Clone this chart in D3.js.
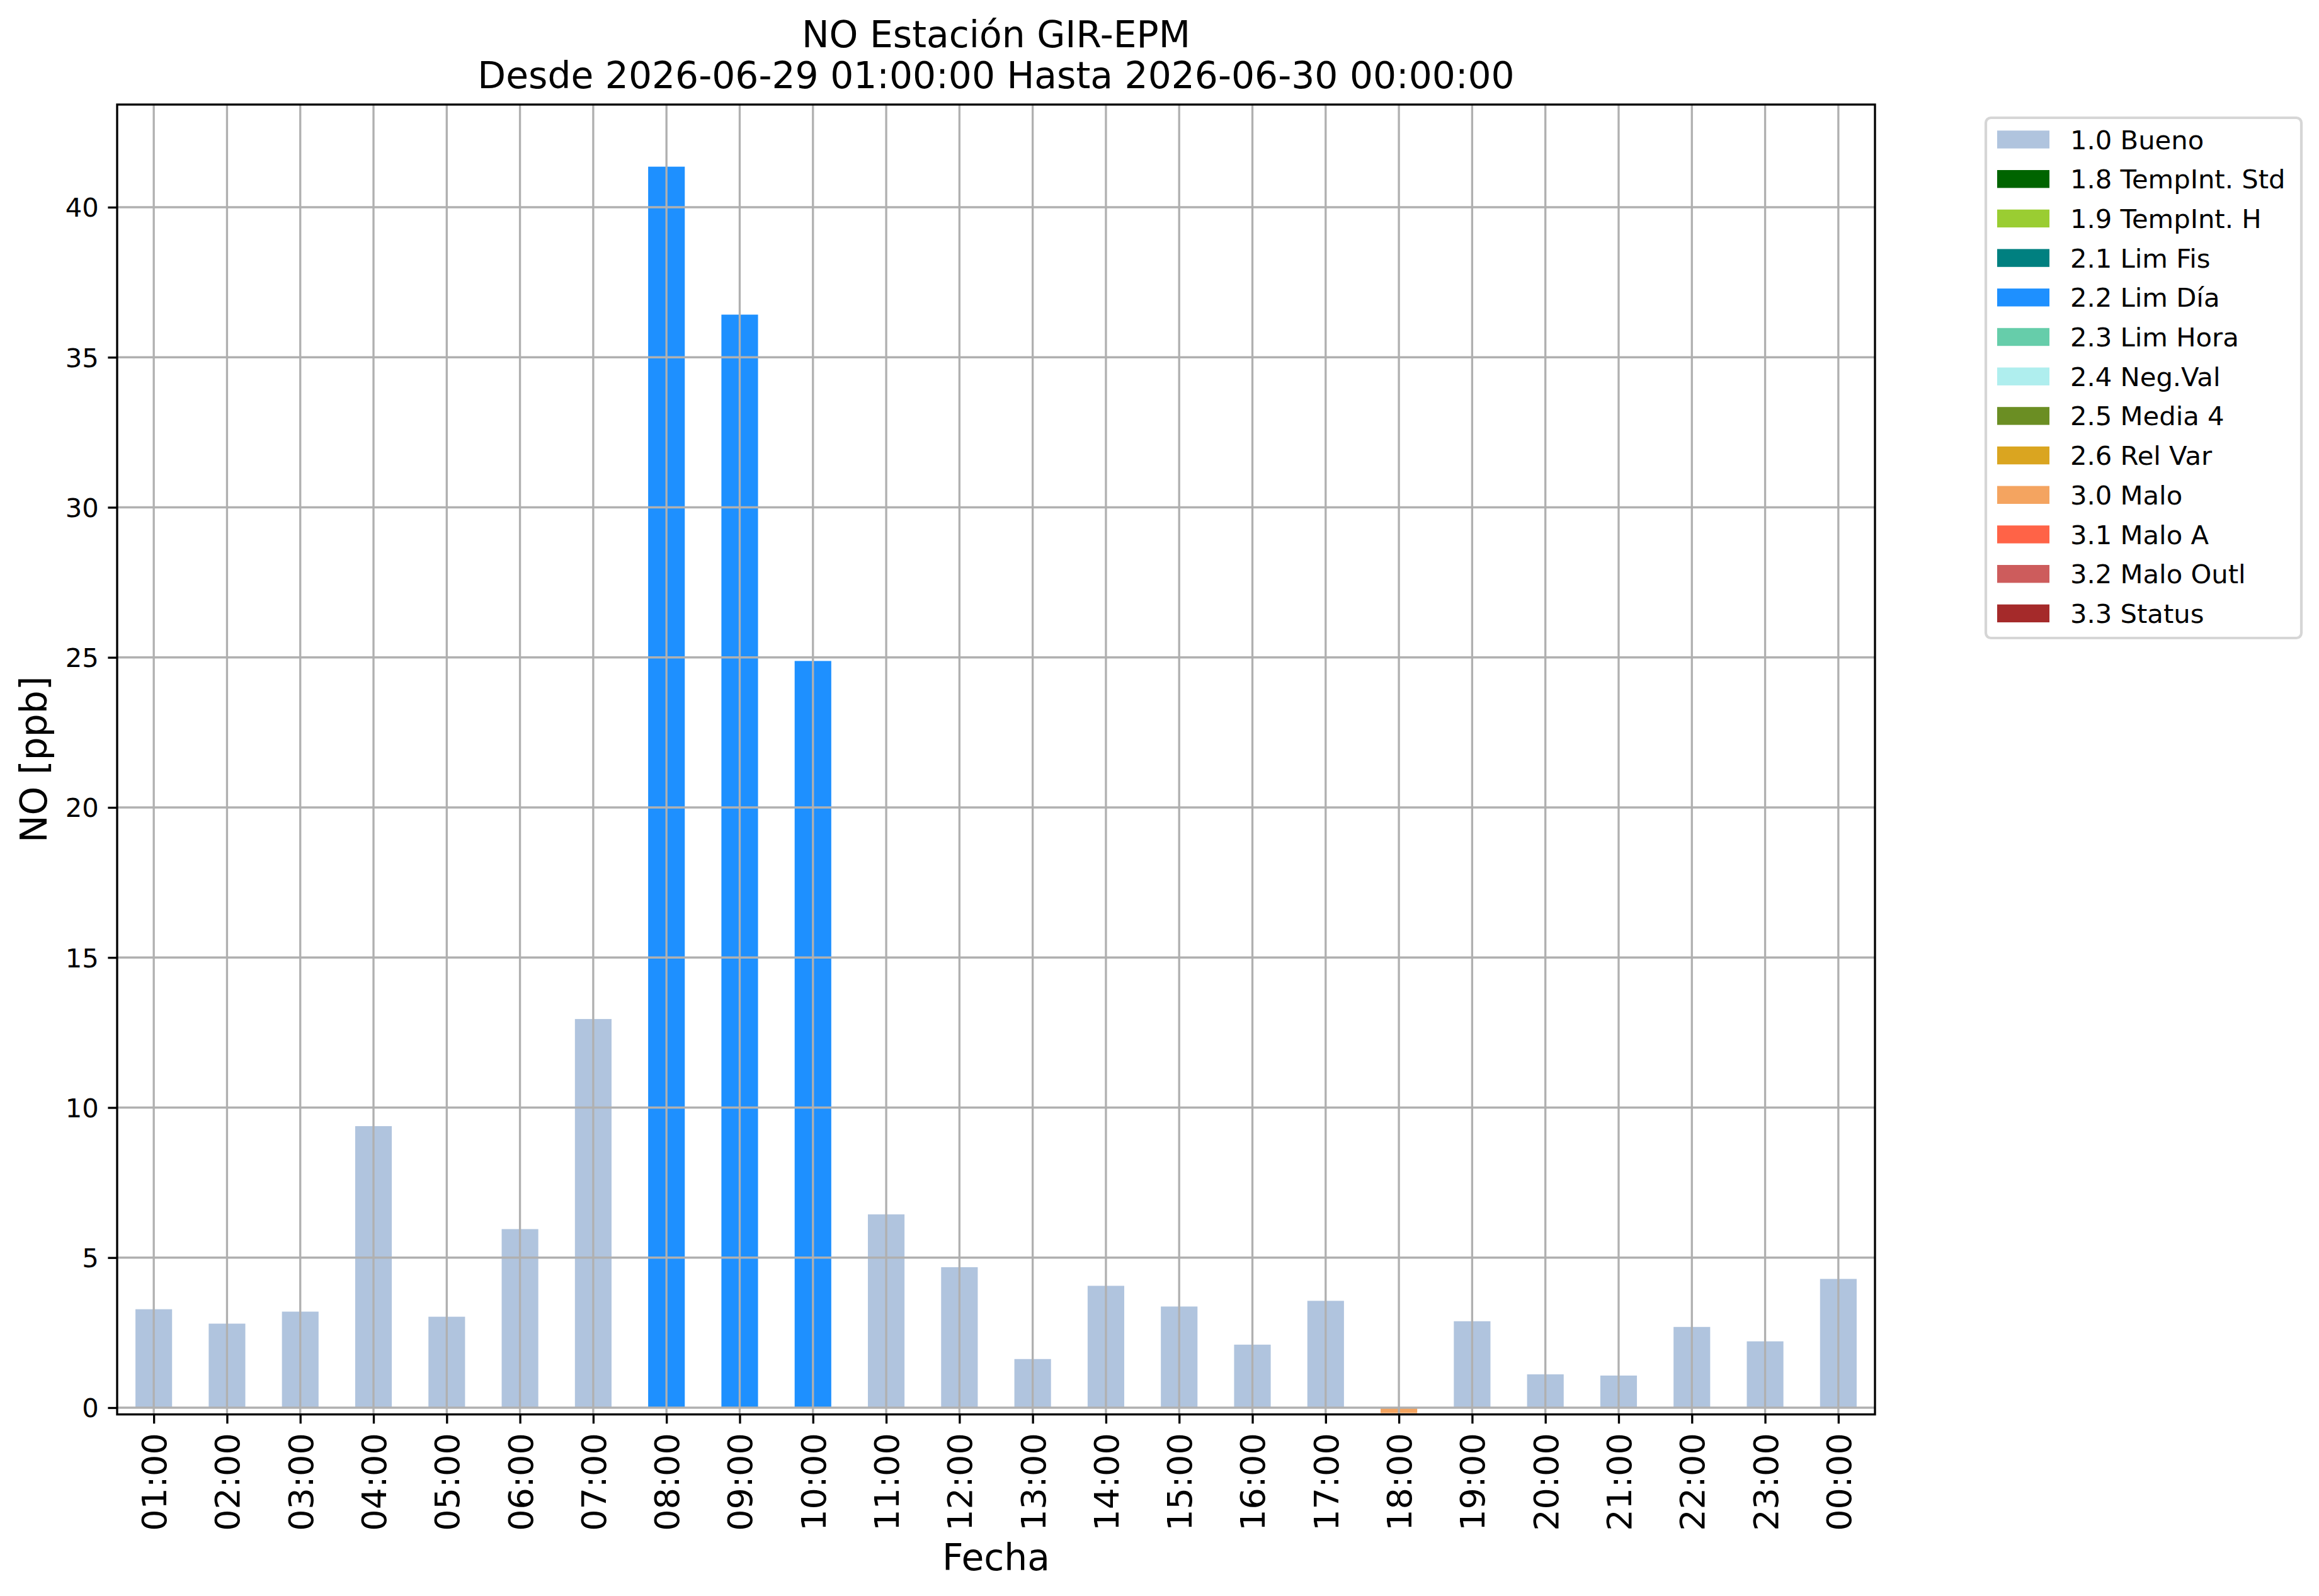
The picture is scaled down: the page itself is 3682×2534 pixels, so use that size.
<!DOCTYPE html>
<html>
<head>
<meta charset="utf-8">
<script src="https://cdn.jsdelivr.net/npm/d3@7"></script>
<style>
  body { margin: 0; background: #fff; }
  text { font-family: "DejaVu Sans", sans-serif; fill: #000; }
</style>
</head>
<body>
<script>
// hourly NO values
var hours = ['01:00','02:00','03:00','04:00','05:00','06:00','07:00','08:00','09:00','10:00','11:00','12:00',
             '13:00','14:00','15:00','16:00','17:00','18:00','19:00','20:00','21:00','22:00','23:00','00:00'];
var values = [3.28, 2.80, 3.20, 9.38, 3.03, 5.95, 12.95, 41.35, 36.42, 24.88, 6.44, 4.68,
              1.62, 4.06, 3.37, 2.10, 3.56, -0.18, 2.88, 1.11, 1.07, 2.69, 2.21, 4.29];
// quality flag of each hour
var flags = ['1.0 Bueno','1.0 Bueno','1.0 Bueno','1.0 Bueno','1.0 Bueno','1.0 Bueno','1.0 Bueno',
             '2.2 Lim Día','2.2 Lim Día','2.2 Lim Día','1.0 Bueno','1.0 Bueno','1.0 Bueno','1.0 Bueno',
             '1.0 Bueno','1.0 Bueno','1.0 Bueno','3.0 Malo','1.0 Bueno','1.0 Bueno','1.0 Bueno',
             '1.0 Bueno','1.0 Bueno','1.0 Bueno'];
var categories = ['1.0 Bueno','1.8 TempInt. Std','1.9 TempInt. H','2.1 Lim Fis','2.2 Lim Día','2.3 Lim Hora',
                  '2.4 Neg.Val','2.5 Media 4','2.6 Rel Var','3.0 Malo','3.1 Malo A','3.2 Malo Outl','3.3 Status'];
var cat_colors = ['#b0c4de','#006400','#9acd32','#008080','#1e90ff','#66cdaa',
                  '#afeeee','#6b8e23','#daa520','#f4a460','#ff6347','#cd5c5c','#a52a2a'];
var y_ticks = [0, 5, 10, 15, 20, 25, 30, 35, 40];
var y_domain = [-0.225, 43.42];

var width = 3682, height = 2534;
var ax_left = 186, ax_right = 2977, ax_top = 166, ax_bottom = 2245.7;
var lw = 3.33;

var color = d3.scaleOrdinal().domain(categories).range(cat_colors);
var xScale = d3.scaleLinear().domain([-0.5, hours.length - 0.5]).range([ax_left, ax_right]);
var yScale = d3.scaleLinear().domain(y_domain).range([ax_bottom, ax_top]);
var bar_w = xScale(0.5) - xScale(0);

var svg = d3.select('body').append('svg').attr('width', width).attr('height', height);

// Bars
svg.append('g').attr('class', 'bars')
  .selectAll('rect').data(values)
  .enter().append('rect')
    .attr('x', (d, i) => xScale(i) - bar_w / 2)
    .attr('y', d => yScale(Math.max(d, 0)))
    .attr('width', bar_w)
    .attr('height', d => Math.abs(yScale(d) - yScale(0)))
    .attr('fill', (d, i) => color(flags[i]));

// Grid (drawn above the bars, like matplotlib)
var grid = svg.append('g').attr('class', 'grid')
  .attr('stroke', '#b0b0b0').attr('stroke-width', lw);
grid.selectAll('.vg').data(hours).enter().append('line')
  .attr('x1', (d, i) => xScale(i)).attr('x2', (d, i) => xScale(i))
  .attr('y1', ax_top).attr('y2', ax_bottom);
grid.selectAll('.hg').data(y_ticks).enter().append('line')
  .attr('x1', ax_left).attr('x2', ax_right)
  .attr('y1', d => yScale(d)).attr('y2', d => yScale(d));

// Axes
var yAxis = d3.axisLeft(yScale).tickValues(y_ticks).tickSize(14.6).tickPadding(14.6);
var gy = svg.append('g').attr('transform', 'translate(' + ax_left + ',0)').call(yAxis);
gy.select('.domain').remove();
gy.selectAll('.tick line').attr('stroke', '#000').attr('stroke-width', lw);
gy.selectAll('.tick text').attr('font-size', 41.7).attr('dy', '0.36em')
  .style('font-family', '"DejaVu Sans", sans-serif');

var xAxis = d3.axisBottom(xScale).tickValues(d3.range(hours.length))
  .tickFormat(i => hours[i]).tickSize(14.6);
var gx = svg.append('g').attr('transform', 'translate(0,' + ax_bottom + ')').call(xAxis);
gx.select('.domain').remove();
gx.selectAll('.tick line').attr('stroke', '#000').attr('stroke-width', lw);
gx.selectAll('.tick text')
  .attr('font-size', 54)
  .attr('transform', 'rotate(-90)')
  .attr('x', -29.5).attr('y', 0).attr('dy', '0.36em')
  .style('text-anchor', 'end')
  .style('font-family', '"DejaVu Sans", sans-serif');

// Frame
svg.append('rect')
  .attr('x', ax_left).attr('y', ax_top)
  .attr('width', ax_right - ax_left).attr('height', ax_bottom - ax_top)
  .attr('fill', 'none').attr('stroke', '#000').attr('stroke-width', lw);

// Texts
var cx = (ax_left + ax_right) / 2;
svg.append('text').attr('x', cx).attr('y', 75).attr('font-size', 58.3)
  .style('text-anchor', 'middle').text('NO Estación GIR-EPM');
svg.append('text').attr('x', cx).attr('y', 140).attr('font-size', 58.3)
  .style('text-anchor', 'middle').text('Desde 2026-06-29 01:00:00 Hasta 2026-06-30 00:00:00');
svg.append('text').attr('x', cx).attr('y', 2493).attr('font-size', 58.3)
  .style('text-anchor', 'middle').text('Fecha');
svg.append('text')
  .attr('transform', 'translate(74,' + ((ax_top + ax_bottom) / 2) + ') rotate(-90)')
  .attr('font-size', 58.3)
  .style('text-anchor', 'middle').text('NO [ppb]');

// Legend
var lg = svg.append('g').attr('class', 'legend');
lg.append('rect')
  .attr('x', 3153).attr('y', 187).attr('width', 501).attr('height', 826)
  .attr('rx', 8).attr('fill', '#fff').attr('stroke', '#d6d6d6').attr('stroke-width', 4.2);
var row = lg.selectAll('.row').data(categories).enter().append('g')
  .attr('transform', (d, i) => 'translate(0,' + (207.3 + i * 62.7) + ')');
row.append('rect').attr('x', 3171).attr('y', 0).attr('width', 83).attr('height', 28.4)
  .attr('fill', d => color(d));
row.append('text').attr('x', 3287).attr('y', 14.2).attr('dy', '0.36em')
  .attr('font-size', 41.7).text(d => d);
</script>
</body>
</html>
